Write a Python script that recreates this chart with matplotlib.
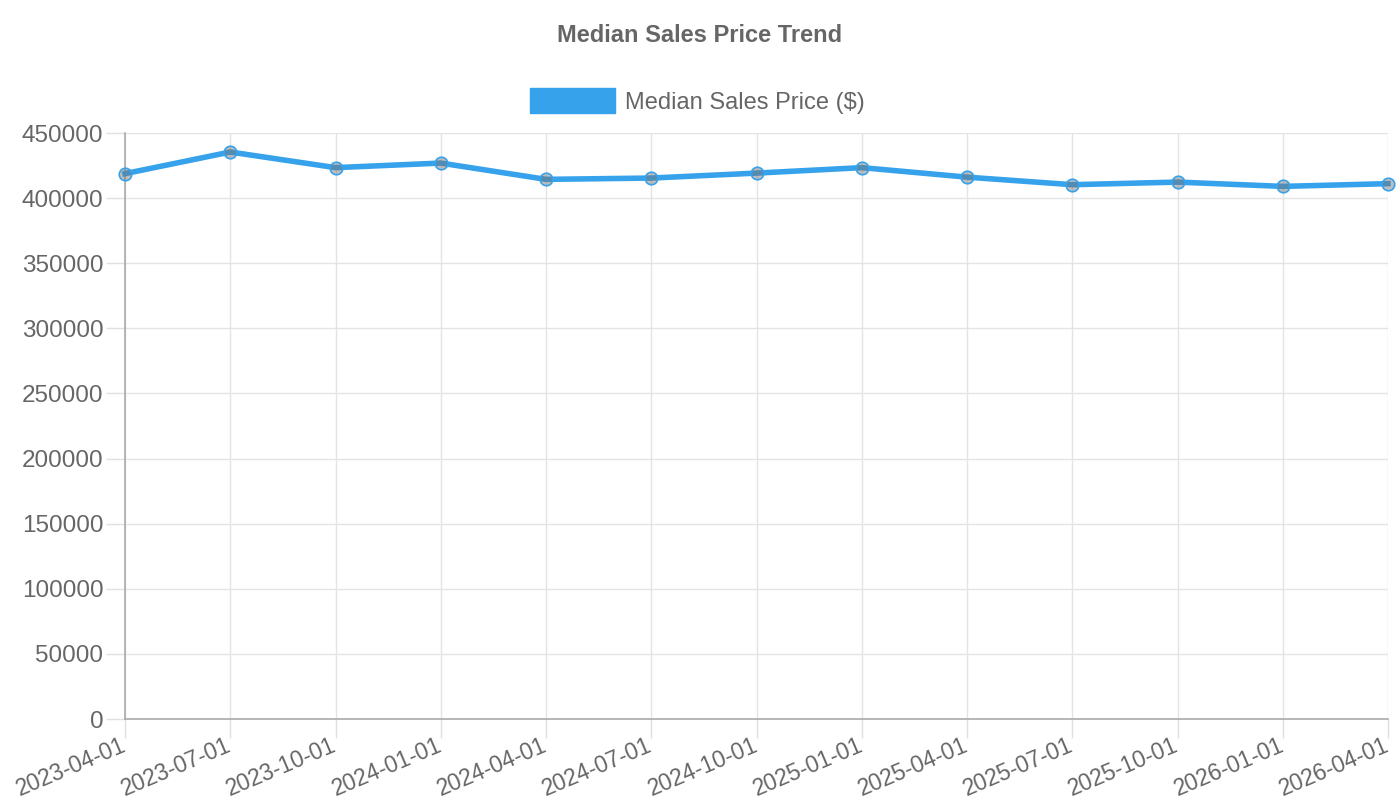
import matplotlib

matplotlib.use("Agg")
import matplotlib.pyplot as plt
from matplotlib.patches import Patch
from matplotlib.transforms import ScaledTranslation

dates = ["2023-04-01", "2023-07-01", "2023-10-01", "2024-01-01", "2024-04-01",
         "2024-07-01", "2024-10-01", "2025-01-01", "2025-04-01", "2025-07-01",
         "2025-10-01", "2026-01-01", "2026-04-01"]
prices = [418800, 435400, 423400, 426900, 414400, 415400, 419200,
          423400, 416100, 410300, 412300, 409000, 411100]
y_ticks = [0, 50000, 100000, 150000, 200000, 250000, 300000, 350000, 400000, 450000]

BLUE = "#36A2EB"
TEXT = "#666666"

plt.rcParams["font.family"] = ["Liberation Sans", "DejaVu Sans"]

fig = plt.figure(figsize=(14, 8), dpi=100)
ax = fig.add_axes([125 / 1400, 1 - 719 / 800, (1388 - 125) / 1400, (719 - 133) / 800])

xs = list(range(len(dates)))
ax.plot(xs, prices, color=BLUE, lw=4, zorder=3, clip_on=False,
        marker="o", markersize=9, markerfacecolor=(0.45, 0.45, 0.45, 0.45),
        markeredgecolor=BLUE, markeredgewidth=1.2)

ax.set_xlim(0, len(dates) - 1)
ax.set_ylim(0, 450000)
ax.set_xticks(xs)
ax.set_xticklabels(dates, rotation=23, ha="right", va="center", rotation_mode="anchor", fontsize=16.5)
ax.set_yticks(y_ticks)
ax.set_yticklabels([str(v) for v in y_ticks], fontsize=17.5)
shift = ScaledTranslation(-3 / 100, 0, fig.dpi_scale_trans)
for lab in ax.get_xticklabels():
    lab.set_transform(lab.get_transform() + shift)

ax.grid(True, color="#e4e4e4", lw=1, zorder=0)
ax.tick_params(axis="both", colors="#e0e0e0", labelcolor=TEXT, length=14, width=1)
ax.tick_params(axis="x", pad=4.5)
ax.tick_params(axis="y", pad=1.5)
for s in ("top", "right"):
    ax.spines[s].set_visible(False)
for s in ("left", "bottom"):
    ax.spines[s].set_color("#aaaaaa")
    ax.spines[s].set_linewidth(1.2)

fig.text(0.5, 1 - 35 / 800, "Median Sales Price Trend", ha="center", va="center",
         fontsize=17, fontweight="bold", color=TEXT)

leg = fig.legend(handles=[Patch(facecolor=BLUE, edgecolor=BLUE, label="Median Sales Price ($)")],
                 loc="center", bbox_to_anchor=(0.498, 1 - 101 / 800), frameon=False,
                 fontsize=17, handlelength=3.6, handleheight=1.25, handletextpad=0.4)
for t in leg.get_texts():
    t.set_color(TEXT)

fig.savefig("out.png", dpi=100)
